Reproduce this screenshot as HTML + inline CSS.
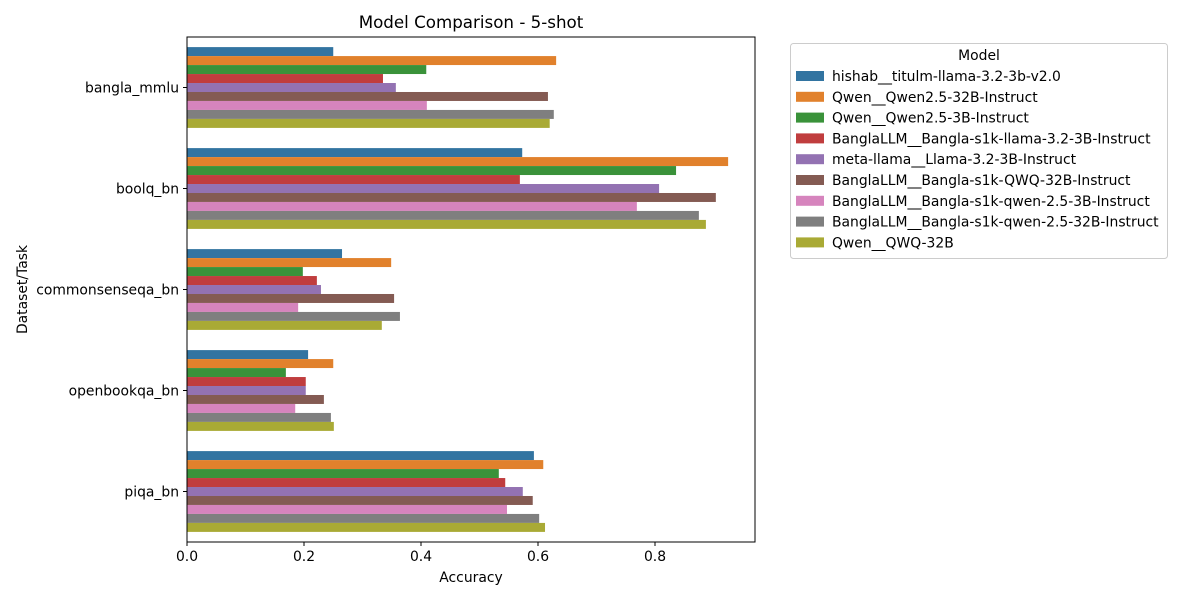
<!DOCTYPE html>
<html><head><meta charset="utf-8"><style>
body{margin:0;background:#fff;font-family:"DejaVu Sans","Liberation Sans",sans-serif;}
svg text{font-family:"DejaVu Sans","Liberation Sans",sans-serif;}
</style></head><body>
<svg id="chart" width="1200" height="600" viewBox="0 0 1200 600"></svg>
<script>
const categories=["bangla_mmlu","boolq_bn","commonsenseqa_bn","openbookqa_bn","piqa_bn"];
const models=["hishab__titulm-llama-3.2-3b-v2.0","Qwen__Qwen2.5-32B-Instruct","Qwen__Qwen2.5-3B-Instruct","BanglaLLM__Bangla-s1k-llama-3.2-3B-Instruct","meta-llama__Llama-3.2-3B-Instruct","BanglaLLM__Bangla-s1k-QWQ-32B-Instruct","BanglaLLM__Bangla-s1k-qwen-2.5-3B-Instruct","BanglaLLM__Bangla-s1k-qwen-2.5-32B-Instruct","Qwen__QWQ-32B"];
const colors=["#3274a1","#e1812c","#3a923a","#c03d3e","#9372b2","#845b53","#d684bd","#7f7f7f","#a9aa35"];
const s0=[0.250,0.573,0.265,0.207,0.593];
const s1=[0.631,0.925,0.349,0.250,0.609];
const s2=[0.409,0.836,0.198,0.169,0.533];
const s3=[0.335,0.569,0.222,0.203,0.544];
const s4=[0.357,0.807,0.229,0.203,0.574];
const s5=[0.617,0.904,0.354,0.234,0.591];
const s6=[0.410,0.769,0.190,0.185,0.547];
const s7=[0.627,0.875,0.364,0.246,0.602];
const s8=[0.620,0.887,0.333,0.251,0.612];
const series=[s0,s1,s2,s3,s4,s5,s6,s7,s8];
const xTicks=[0,0.2,0.4,0.6,0.8];
const xTickLabels=["0.0","0.2","0.4","0.6","0.8"];

const NS="http://www.w3.org/2000/svg";
const svg=document.getElementById("chart");
const L=187,R=755,T=37,B=542;
const xs=v=>L+v*585;
const band=(B-T)/categories.length;
const yc=i=>T+band*(i+0.5);
function mk(tag,attrs,parent){const e=document.createElementNS(NS,tag);for(const k in attrs)e.setAttribute(k,attrs[k]);(parent||svg).appendChild(e);return e;}

const t=mk("text",{x:(L+R)/2,y:28,"text-anchor":"middle","font-size":16.7,fill:"#000"});t.textContent="Model Comparison - 5-shot";



const bw=band*0.8/models.length;
series.forEach((s,j)=>{
  s.forEach((v,i)=>{
    const y=yc(i)-band*0.4+j*bw;
    const r=mk("rect",{x:L,y:y,width:xs(v)-L,height:bw,fill:colors[j]});
    
    
  });
});

const ax=mk("rect",{x:L,y:T,width:R-L,height:B-T,fill:"none",stroke:"#000","stroke-width":1});



xTicks.forEach((v,i)=>{
  mk("line",{x1:xs(v),x2:xs(v),y1:B,y2:B+4,stroke:"#000"});
  const tx=mk("text",{x:xs(v),y:B+19,"text-anchor":"middle","font-size":13.9});tx.textContent=xTickLabels[i];
  
  
});
categories.forEach((c,i)=>{
  mk("line",{x1:L-4,x2:L,y1:yc(i),y2:yc(i),stroke:"#000"});
  const tx=mk("text",{x:L-8,y:yc(i)+5,"text-anchor":"end","font-size":13.9});tx.textContent=c;
  
  
});
const xl=mk("text",{x:(L+R)/2,y:582,"text-anchor":"middle","font-size":13.9});xl.textContent="Accuracy";


const yl=mk("text",{x:27,y:(T+B)/2,"text-anchor":"middle","font-size":13.9,transform:"rotate(-90 27 "+((T+B)/2)+")"});yl.textContent="Dataset/Task";



const lg=mk("g",{});


mk("rect",{x:790.5,y:43.5,width:377,height:215,rx:3,fill:"#fff",stroke:"#ccc"},lg);
const lt=mk("text",{x:979,y:60,"text-anchor":"middle","font-size":13.9},lg);lt.textContent="Model";
models.forEach((m,j)=>{
  const y=76+j*20.8;
  const e=mk("g",{},lg);
  
  
  mk("rect",{x:796,y:y-5,width:28,height:10,fill:colors[j]},e);
  const tx=mk("text",{x:832,y:y+5,"font-size":13.9},e);tx.textContent=m;
});
</script>
</body></html>
